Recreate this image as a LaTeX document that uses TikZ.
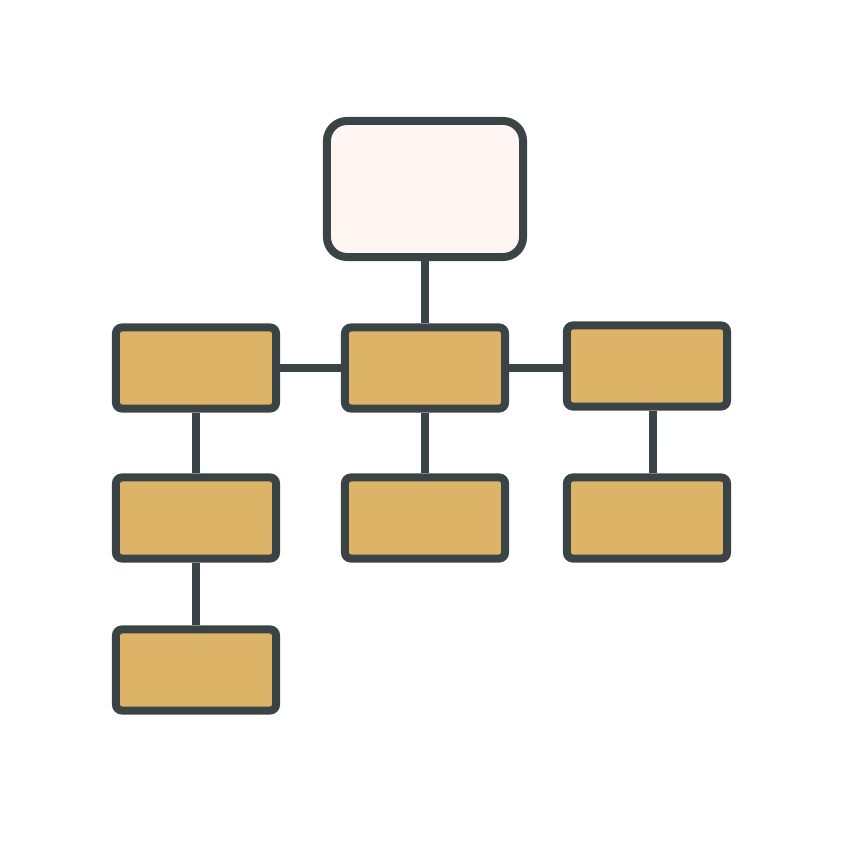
\documentclass[tikz,border=0pt]{standalone}
\definecolor{edgegray}{HTML}{3A4446}
\definecolor{boxgold}{HTML}{DDB368}
\definecolor{rootpink}{HTML}{FFF5F3}
\begin{document}
\begin{tikzpicture}[x=0.01cm,y=-0.01cm]
                \tikzstyle{every node}+=[inner sep=0pt]
                \tikzstyle{unitbox}=[draw=edgegray, line width=0.08cm, fill=boxgold, rounded corners=0.06cm, minimum width=1.60cm, minimum height=0.81cm]
                \tikzstyle{rootbox}=[draw=edgegray, line width=0.08cm, fill=rootpink, rounded corners=0.2cm, minimum width=1.96cm, minimum height=1.36cm]
                \tikzstyle{link}=[draw=edgegray, line width=0.08cm]
                \useasboundingbox (0,0) rectangle (843,843);
                \node [rootbox] (head) at (425,189) {};
                \node [unitbox] (left1) at (196,368) {};
                \node [unitbox] (mid1) at (425,368) {};
                \node [unitbox] (right1) at (647,366) {};
                \node [unitbox] (left2) at (196,518) {};
                \node [unitbox] (mid2) at (425,518) {};
                \node [unitbox] (right2) at (647,518) {};
                \node [unitbox] (left3) at (196,670) {};
                \draw [link] (head.south) -- (mid1.north);
                \draw [link] (left1.east) -- (mid1.west);
                \draw [link] (mid1.east) -- (mid1.east -| right1.west);
                \draw [link] (left1.south) -- (left2.north);
                \draw [link] (left2.south) -- (left3.north);
                \draw [link] (mid1.south) -- (mid2.north);
                \draw [link] ([xshift=0.055cm]right1.south) -- ([xshift=0.055cm]right2.north);
            \end{tikzpicture}
\end{document}
